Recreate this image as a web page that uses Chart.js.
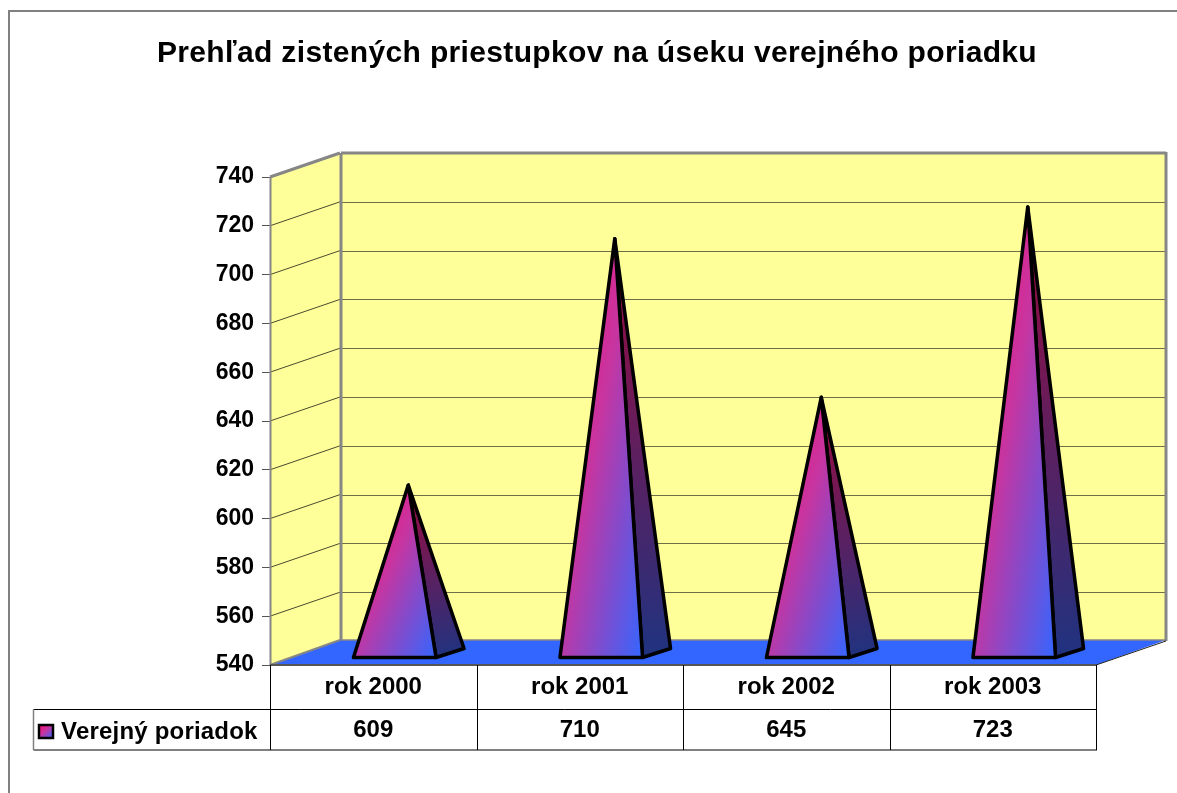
<!DOCTYPE html>
<html>
<head>
<meta charset="utf-8">
<style>html,body{margin:0;padding:0;background:#fff;overflow:hidden}canvas{display:block}</style>
<script src="https://cdn.jsdelivr.net/npm/chart.js@4/dist/chart.umd.js"></script>
</head>
<body>
<canvas id="c" width="1177" height="793"></canvas>
<script>
const chartTitle = 'Prehľad zistených priestupkov na úseku verejného poriadku';
const categories = ['rok 2000', 'rok 2001', 'rok 2002', 'rok 2003'];
const seriesName = 'Verejný poriadok';
const seriesValues = [609, 710, 645, 723];
const axisMin = 540, axisMax = 740, axisStep = 20;

const FONT = '"Liberation Sans", Arial, sans-serif';
const WALL_DX = 70, WALL_DY = -24;

function diagGradient(ctx, x0, y0, x1, y1) {
  const w = x1 - x0, h = y1 - y0, cx = (x0 + x1) / 2, cy = (y0 + y1) / 2;
  const n = Math.hypot(h, w), dx = h / n, dy = w / n, L = w * h / n;
  const g = ctx.createLinearGradient(cx - dx * L, cy - dy * L, cx + dx * L, cy + dy * L);
  g.addColorStop(0, '#ff0a70'); g.addColorStop(0.45, '#c8349f'); g.addColorStop(1, '#3366ff');
  return g;
}

class PyramidElement extends Chart.BarElement {
  draw(ctx) {
    const {x, y, base, width} = this.getProps(['x', 'y', 'base', 'width'], false);
    const fx = 21.5, fy = -7, bx = 28, by = -9;
    const L = x - width / 2 + fx, R = x + width / 2 + fx, B = base + fy;
    const ax = (L + R) / 2 + bx / 2 - 0.5, ay = y + fy + by / 2;
    ctx.save();
    ctx.lineWidth = 3.5; ctx.lineJoin = 'round'; ctx.strokeStyle = '#000';
    const poly = pts => { ctx.beginPath(); pts.forEach((p, i) => i ? ctx.lineTo(p[0], p[1]) : ctx.moveTo(p[0], p[1])); ctx.closePath(); };
    poly([[R, B], [R + bx, B + by], [ax, ay]]);
    const sg = ctx.createLinearGradient(ax, ay, R + bx / 2, B);
    sg.addColorStop(0, '#a00a3c'); sg.addColorStop(1, '#1f3380');
    ctx.fillStyle = sg; ctx.fill(); ctx.stroke();
    poly([[L, B], [R, B], [ax, ay]]);
    ctx.fillStyle = diagGradient(ctx, L, ay, R, B);
    ctx.fill(); ctx.stroke();
    ctx.restore();
  }
}
PyramidElement.id = 'pyramid';
PyramidElement.defaults = Chart.BarElement.defaults;
PyramidElement.defaultRoutes = Chart.BarElement.defaultRoutes;
class PyramidController extends Chart.BarController {}
PyramidController.id = 'pyramid';
PyramidController.defaults = Object.assign({}, Chart.BarController.defaults, {dataElementType: 'pyramid'});
PyramidController.overrides = Chart.BarController.overrides;
Chart.register(PyramidElement, PyramidController);

const line = (ctx, x0, y0, x1, y1, color, w) => {
  ctx.strokeStyle = color; ctx.lineWidth = w;
  ctx.beginPath(); ctx.moveTo(x0, y0); ctx.lineTo(x1, y1); ctx.stroke();
};

const scene = {
  id: 'scene',
  beforeDraw(chart) {
    const ctx = chart.ctx, tb = chart.titleBlock;
    tb.left = 8; tb.right = 1186;
    if (!tb._spaced) {
      const orig = tb.draw;
      tb.draw = function () {
        ctx.save(); ctx.letterSpacing = '0.35px';
        orig.call(tb);
        ctx.restore();
      };
      tb._spaced = true;
    }
    ctx.save();
    line(ctx, 9, 793, 9, 11, '#808080', 2);
    line(ctx, 8, 11, 1177, 11, '#808080', 2);
    ctx.restore();
  },
  beforeDatasetsDraw(chart) {
    const ctx = chart.ctx, {left: l, right: r, top: t, bottom: b} = chart.chartArea, y = chart.scales.y;
    const dx = WALL_DX, dy = WALL_DY;
    ctx.save();
    ctx.fillStyle = '#ffff99';
    ctx.fillRect(l + dx, t + dy, r - l, b - t);
    ctx.beginPath(); ctx.moveTo(l, t); ctx.lineTo(l + dx, t + dy); ctx.lineTo(l + dx, b + dy); ctx.lineTo(l, b); ctx.closePath(); ctx.fill();
    y.ticks.forEach(tk => {
      if (tk.value === axisMin || tk.value === axisMax) return;
      const p = y.getPixelForValue(tk.value);
      line(ctx, l, p, l + dx, p + dy, '#4a4a30', 1);
      line(ctx, l + dx, Math.round(p + dy) + .5, r + dx, Math.round(p + dy) + .5, '#6e6e48', 1);
    });
    ctx.fillStyle = '#3366ff';
    ctx.beginPath(); ctx.moveTo(l, b); ctx.lineTo(l + dx, b + dy - 1); ctx.lineTo(r + dx, b + dy - 1); ctx.lineTo(r, b); ctx.closePath(); ctx.fill();
    const G = '#868686';
    line(ctx, l + dx + 1, t + dy, r + dx, t + dy, G, 3);
    line(ctx, r + dx, t + dy - 1, r + dx, b + dy, G, 3);
    line(ctx, l + dx + 1, t + dy, l + dx + 1, b + dy - 1, G, 3);
    line(ctx, l + dx, b + dy - 1, r + dx, b + dy - 1, G, 1.5);
    line(ctx, l, t, l + dx, t + dy, G, 3);
    line(ctx, l, b, l + dx, b + dy - 1, G, 2);
    line(ctx, l + .5, t, l + .5, b, G, 2);
    line(ctx, r, b, r + dx, b + dy, '#222', 1);
    ctx.restore();
  },
  afterDraw(chart) {
    const ctx = chart.ctx, x = chart.scales.x, {left: l, right: r, bottom: b} = chart.chartArea;
    const r1 = 709.5, r2 = 750, legendLeft = 33.5;
    ctx.save();
    line(ctx, l, b, r, b, '#555', 2);
    line(ctx, legendLeft, r1, r, r1, '#000', 1);
    line(ctx, legendLeft, r2, r + 1, r2, '#808080', 2);
    line(ctx, legendLeft, r1, legendLeft, r2, '#808080', 1.5);
    const step = (r - l) / categories.length;
    for (let i = 0; i <= categories.length; i++) {
      const px = Math.round(l + step * i) + .5;
      line(ctx, px, b, px, r2, '#000', 1);
    }
    ctx.font = 'bold 24px ' + FONT;
    ctx.fillStyle = '#000'; ctx.textBaseline = 'middle'; ctx.textAlign = 'center';
    seriesValues.forEach((v, i) => ctx.fillText(String(v), x.getPixelForTick(i), 730));
    ctx.textAlign = 'left';
    ctx.letterSpacing = '0.2px';
    ctx.fillText(seriesName, 61, 732);
    ctx.letterSpacing = '0px';
    ctx.fillStyle = diagGradient(ctx, 39, 725, 53, 738);
    ctx.fillRect(39, 725, 14, 13);
    ctx.strokeStyle = '#000'; ctx.lineWidth = 2.5;
    ctx.strokeRect(39, 725, 14, 13);
    ctx.restore();
  }
};

new Chart(document.getElementById('c'), {
  type: 'pyramid',
  data: {
    labels: categories,
    datasets: [{label: seriesName, data: seriesValues, base: axisMin, backgroundColor: '#cc3399', barPercentage: 0.4, categoryPercentage: 1, clip: false}]
  },
  plugins: [scene],
  options: {
    responsive: false,
    animation: false,
    layout: {padding: {left: 0, right: 81, top: 0, bottom: 0}},
    plugins: {
      legend: {display: false},
      tooltip: {enabled: false},
      title: {
        display: true, text: chartTitle, color: '#000',
        font: {family: FONT, size: 30, weight: 'bold', lineHeight: 1.2},
        padding: {top: 36, bottom: 105}
      }
    },
    scales: {
      x: {
        type: 'category', offset: true,
        grid: {display: false}, border: {display: false},
        ticks: {color: '#000', font: {family: FONT, size: 24, weight: 'bold'}, padding: 0, maxRotation: 0},
        afterFit(s) { s.height = 128; }
      },
      y: {
        min: axisMin, max: axisMax,
        grid: {drawOnChartArea: false, drawTicks: true, tickLength: 8, color: '#555'},
        border: {display: false},
        ticks: {stepSize: axisStep, color: '#000', font: {family: FONT, size: 23, weight: 'bold'}, padding: 8},
        afterFit(s) { s.width = 270; }
      }
    }
  }
});
</script>
</body>
</html>
